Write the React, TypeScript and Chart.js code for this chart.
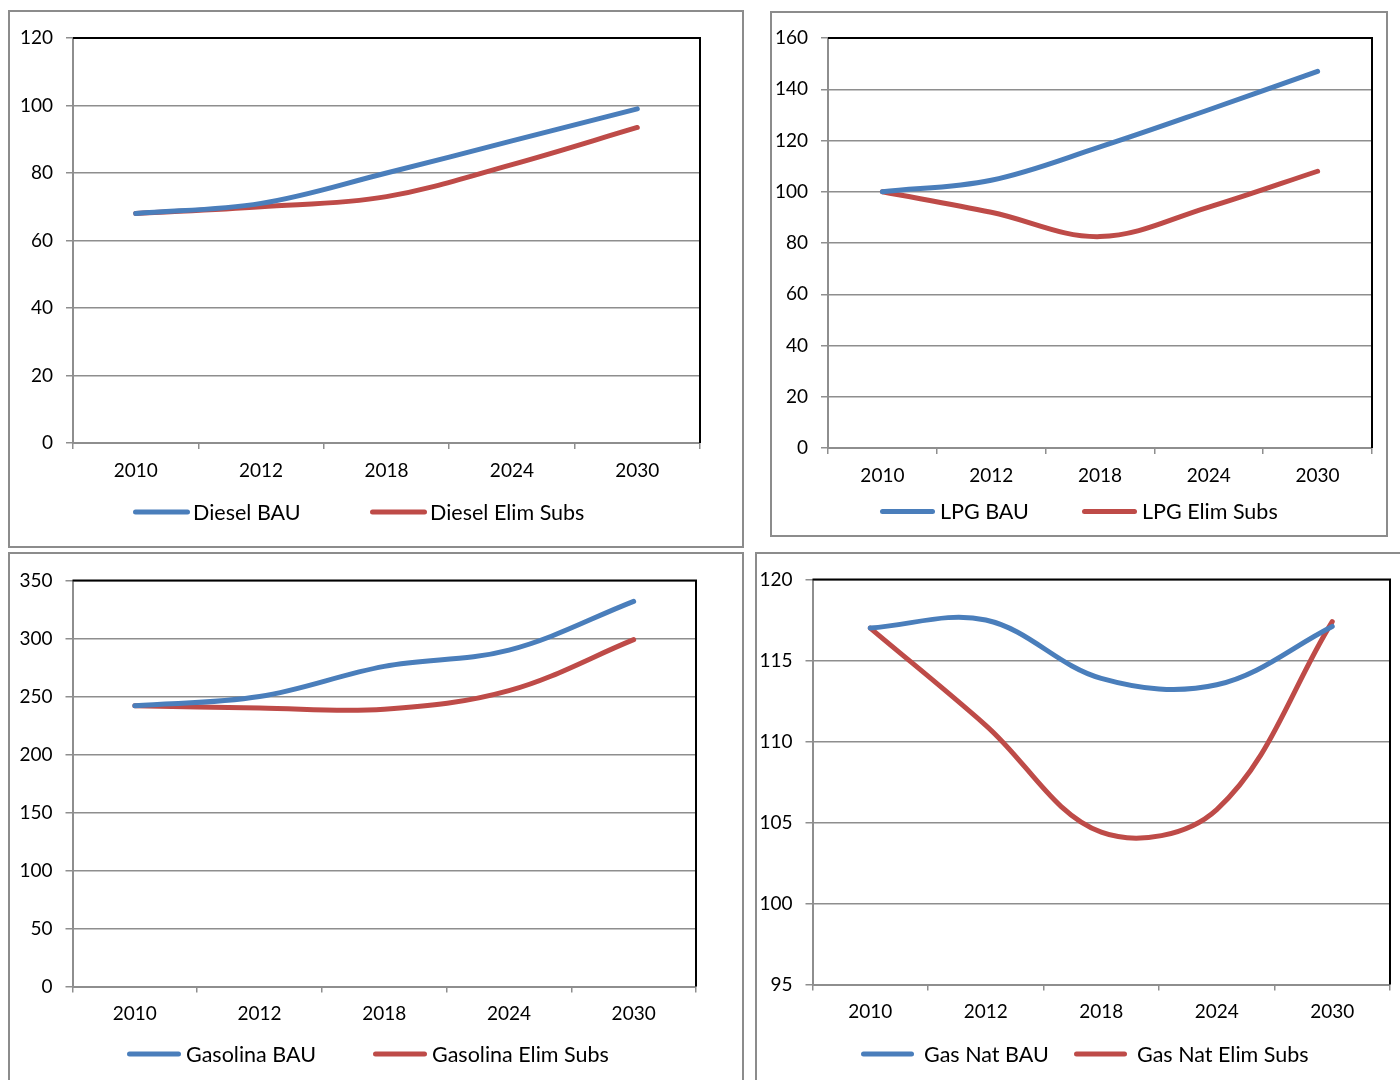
import React, { useEffect, useRef } from "react";
import { Chart, registerables } from "chart.js";

Chart.register(...registerables);

// ---------- data ----------
const categories = ["2010", "2012", "2018", "2024", "2030"];

const dieselLabels = ["Diesel BAU", "Diesel Elim Subs"];
const dieselBAU = [68, 71, 80, 89.5, 99];
const dieselElim = [68, 70, 73, 82.5, 93.5];

const lpgLabels = ["LPG BAU", "LPG Elim Subs"];
const lpgBAU = [100, 104.5, 117.5, 132, 147];
const lpgElim = [100, 92, 82.5, 94, 108];

const gasolinaLabels = ["Gasolina BAU", "Gasolina Elim Subs"];
const gasolinaBAU = [242, 250, 276, 290, 332];
const gasolinaElim = [242, 240, 239, 255, 299];

const gasNatLabels = ["Gas Nat BAU", "Gas Nat Elim Subs"];
const gasNatBAU = [117, 117.5, 113.9, 113.5, 117.1];
const gasNatElim = [117, 111, 104.4, 105.8, 117.4];

// y-axis tick ranges [min, max, step]
const dieselTicks = [0, 120, 20];
const lpgTicks = [0, 160, 20];
const gasolinaTicks = [0, 350, 50];
const gasNatTicks = [95, 120, 5];

// ---------- styles ----------
const COLORS = ["#4a7ebb", "#be4b48"];
const GRID = "#8e8e8e";
const FONT = "Lato, 'Open Sans', sans-serif";
const BORDER = 2;

type Cfg = {
  labels: string[];
  series: number[][];
  ticks: number[];
  box: { left: number; top: number; width: number; height: number };
  canvas: { w: number; h: number };
  area: { l: number; t: number; r: number; b: number };
  legend: { y: number; starts: number[]; gap: number; len: number };
};

const panels: Cfg[] = [
  {
    labels: dieselLabels,
    series: [dieselBAU, dieselElim],
    ticks: dieselTicks,
    box: { left: 8, top: 10, width: 736, height: 538 },
    canvas: { w: 732, h: 534 },
    area: { l: 73, t: 38, r: 700, b: 443 },
    legend: { y: 512, starts: [133, 370], gap: 3, len: 57 },
  },
  {
    labels: lpgLabels,
    series: [lpgBAU, lpgElim],
    ticks: lpgTicks,
    box: { left: 770, top: 11, width: 618, height: 526 },
    canvas: { w: 614, h: 522 },
    area: { l: 828, t: 38, r: 1372, b: 448 },
    legend: { y: 511.5, starts: [880, 1082], gap: 5, len: 55 },
  },
  {
    labels: gasolinaLabels,
    series: [gasolinaBAU, gasolinaElim],
    ticks: gasolinaTicks,
    box: { left: 8, top: 552, width: 736, height: 600 },
    canvas: { w: 732, h: 526 },
    area: { l: 72.5, t: 580.5, r: 696, b: 986.5 },
    legend: { y: 1054, starts: [127, 373], gap: 5, len: 54 },
  },
  {
    labels: gasNatLabels,
    series: [gasNatBAU, gasNatElim],
    ticks: gasNatTicks,
    box: { left: 755, top: 552, width: 700, height: 600 },
    canvas: { w: 643, h: 526 },
    area: { l: 812.5, t: 579.5, r: 1390, b: 984.5 },
    legend: { y: 1054, starts: [861, 1074], gap: 10, len: 53 },
  },
];

function Panel({ cfg }: { cfg: Cfg }) {
  const ref = useRef<HTMLCanvasElement>(null);

  useEffect(() => {
    const canvas = ref.current!;
    const ox = cfg.box.left + BORDER;
    const oy = cfg.box.top + BORDER;
    const cw = cfg.canvas.w;
    const ch = cfg.canvas.h;
    const area = {
      l: cfg.area.l - ox,
      t: cfg.area.t - oy,
      r: cfg.area.r - ox,
      b: cfg.area.b - oy,
    };

    const framePlugin = {
      id: "frame",
      afterDraw(chart: any) {
        const { ctx, chartArea } = chart;
        ctx.save();
        ctx.strokeStyle = "#000";
        ctx.lineWidth = 2;
        ctx.beginPath();
        ctx.moveTo(chartArea.left, chartArea.top);
        ctx.lineTo(chartArea.right, chartArea.top);
        ctx.lineTo(chartArea.right, chartArea.bottom);
        ctx.stroke();
        ctx.restore();
      },
    };

    const legendPlugin = {
      id: "customLegend",
      afterDraw(chart: any) {
        const { ctx } = chart;
        ctx.save();
        const y = cfg.legend.y - oy;
        chart.data.datasets.forEach((ds: any, i: number) => {
          const x0 = cfg.legend.starts[i] - ox;
          ctx.strokeStyle = ds.borderColor;
          ctx.lineWidth = 5;
          ctx.lineCap = "round";
          ctx.beginPath();
          ctx.moveTo(x0 + 2.5, y);
          ctx.lineTo(x0 + cfg.legend.len - 2.5, y);
          ctx.stroke();
          ctx.fillStyle = "#000";
          ctx.font = `21.5px ${FONT}`;
          ctx.textBaseline = "middle";
          ctx.textAlign = "left";
          ctx.fillText(ds.label, x0 + cfg.legend.len + cfg.legend.gap, y + 1);
        });
        ctx.restore();
      },
    };

    const chart = new Chart(canvas, {
      type: "line",
      data: {
        labels: categories,
        datasets: cfg.series.map((d, i) => ({
          label: cfg.labels[i],
          data: d,
          borderColor: COLORS[i],
          backgroundColor: COLORS[i],
          borderWidth: 5,
          pointRadius: 0,
          pointHoverRadius: 0,
          tension: 0.36,
          fill: false,
          borderCapStyle: "round",
          borderJoinStyle: "round",
        })),
      },
      options: {
        responsive: false,
        animation: false,
        events: [],
        layout: {
          padding: { top: area.t, right: cw - area.r, left: 0, bottom: 0 },
        },
        plugins: {
          legend: { display: false },
          tooltip: { enabled: false },
          title: { display: false },
        },
        scales: {
          x: {
            type: "category",
            offset: true,
            grid: {
              offset: true,
              drawOnChartArea: false,
              color: GRID,
              lineWidth: 1.5,
              tickLength: 6,
            },
            border: { color: GRID, width: 2 },
            ticks: {
              color: "#000",
              font: { family: FONT, size: 19 },
              padding: 10,
              maxRotation: 0,
              autoSkip: false,
            },
            afterFit: (s: any) => {
              s.height = ch - area.b;
            },
          },
          y: {
            min: cfg.ticks[0],
            max: cfg.ticks[1],
            ticks: {
              stepSize: cfg.ticks[2],
              color: "#000",
              font: { family: FONT, size: 19 },
              padding: 13,
            },
            grid: { color: GRID, lineWidth: 1.5, tickLength: 7 },
            border: { color: GRID, width: 2 },
            afterFit: (s: any) => {
              s.width = area.l;
            },
          },
        },
      } as any,
      plugins: [framePlugin, legendPlugin],
    });
    return () => chart.destroy();
  }, [cfg]);

  return (
    <div
      style={{
        position: "absolute",
        left: cfg.box.left,
        top: cfg.box.top,
        width: cfg.box.width,
        height: cfg.box.height,
        border: `${BORDER}px solid #8c8c8c`,
        boxSizing: "border-box",
        background: "#fff",
      }}
    >
      <canvas
        ref={ref}
        width={cfg.canvas.w}
        height={cfg.canvas.h}
        style={{ position: "absolute", left: 0, top: 0, width: cfg.canvas.w, height: cfg.canvas.h }}
      />
    </div>
  );
}

export default function App() {
  return (
    <div
      style={{
        position: "absolute",
        left: 0,
        top: 0,
        width: 1400,
        height: 1080,
        overflow: "hidden",
        background: "#fff",
      }}
    >
      {panels.map((p, i) => (
        <Panel key={i} cfg={p} />
      ))}
    </div>
  );
}
